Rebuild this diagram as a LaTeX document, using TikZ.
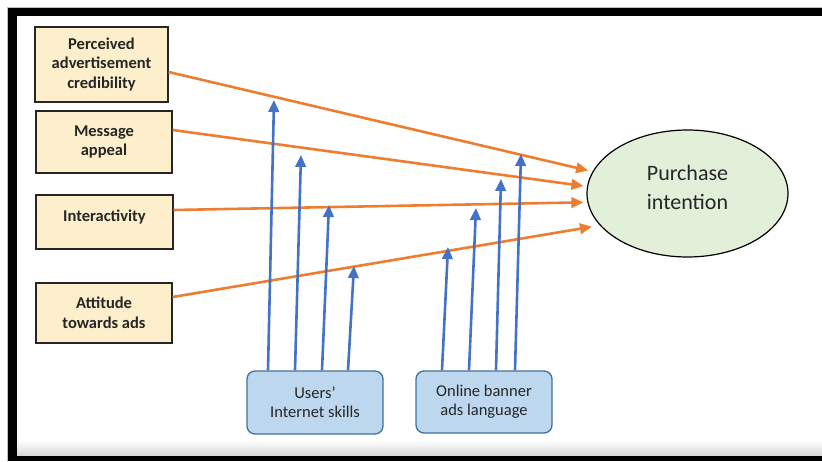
\documentclass[tikz,border=0pt]{standalone}
\usepackage{fontspec}
\setmainfont{Carlito}
\usetikzlibrary{arrows.meta,calc,shapes.geometric}
\definecolor{boxfill}{HTML}{FDEFCB}
\definecolor{orangeline}{HTML}{ED7D31}
\definecolor{bluearrow}{HTML}{4472C4}
\definecolor{bluefill}{HTML}{BDD7EE}
\definecolor{blueedge}{HTML}{41719C}
\definecolor{greenfill}{HTML}{E2EFD9}
\definecolor{textgray}{HTML}{262626}

\begin{document}
\begin{tikzpicture}[x=1pt,y=-1pt,
  factor/.style={draw=black!85, line width=1.2pt, fill=boxfill,
    font=\fontsize{16.5}{19.5}\selectfont\bfseries, text=textgray,
    align=center, inner sep=0pt},
  moderator/.style={draw=blueedge, line width=1.3pt, fill=bluefill,
    rounded corners=8pt, font=\fontsize{16.5}{19}\selectfont, text=textgray,
    align=center, inner sep=0pt, minimum width=136pt},
  outcome/.style={ellipse, draw=black, line width=1.2pt, fill=greenfill,
    minimum width=201pt, minimum height=127pt, inner sep=0pt},
  outcometext/.style={font=\fontsize{22}{28.5}\selectfont, text=textgray,
    align=center, inner sep=0pt},
  effect/.style={draw=orangeline, line width=2.6pt,
    -{Triangle[length=12pt,width=10.5pt]}},
  moderation/.style={draw=bluearrow, line width=2.6pt,
    -{Triangle[length=12pt,width=10.5pt]}},
]
\useasboundingbox (0,0) rectangle (822,461);

% frame
\draw[black!25, line width=0.8pt] (7,461) -- (7,7) -- (822,7);
\shade[top color=white, bottom color=black!16] (17,440) rectangle (822,456);
\fill[black] (8,8) rectangle (822,16);
\fill[black] (8,8) rectangle (17,461);
\fill[black] (8,456) rectangle (822,461);

% constructs
\node[factor, minimum width=133pt, minimum height=75pt] (cred) at (101.5,64.5)
  {Perceived\\advertisement\\credibility};
\node[factor, minimum width=136pt, minimum height=62pt] (appeal) at (104,142)
  {Message\\appeal};
\node[factor, minimum width=137pt, minimum height=54pt, text depth=13pt] (inter) at (104.5,222)
  {Interactivity};
\node[factor, minimum width=136pt, minimum height=60pt] (att) at (104,313)
  {Attitude\\towards ads};
\node[moderator, minimum height=63pt] (skills) at (315,402.5)
  {Users’\\Internet skills};
\node[moderator, minimum height=62pt] (lang) at (484,402)
  {Online banner\\ads language};
\node[outcome] (pi) at (687.5,193.5) {};
\node[outcometext] (pitext) at ($(pi)+(0,-6)$) {Purchase\\intention};

% direct effects
\draw[effect, shorten >=4.5pt] ($(cred.east)+(0,7.5)$) -- (pi.167.8);
\draw[effect, shorten >=3.5pt] ($(appeal.east)+(0,-12)$) -- (pi.176.9);
\draw[effect, shorten >=4pt] ($(inter.east)+(0,-12)$) -- (pi.185.5);
\draw[effect, shorten >=8pt] ($(att.east)+(0,-16)$) -- (pi.200.4);

% moderating effects
\coordinate (s1) at (274,100);
\coordinate (s2) at (301,155);
\coordinate (s3) at (329,205);
\coordinate (s4) at (354,266);
\coordinate (l1) at (448,247);
\coordinate (l2) at (476,208);
\coordinate (l3) at (501,179);
\coordinate (l4) at (521,154);
\draw[moderation] ($(skills.north)+(-47,0)$) -- (s1);
\draw[moderation] ($(skills.north)+(-20,0)$) -- (s2);
\draw[moderation] ($(skills.north)+(7,0)$) -- (s3);
\draw[moderation] ($(skills.north)+(33,0)$) -- (s4);
\draw[moderation] ($(lang.north)+(-42,0)$) -- (l1);
\draw[moderation] ($(lang.north)+(-15,0)$) -- (l2);
\draw[moderation] ($(lang.north)+(12,0)$) -- (l3);
\draw[moderation] ($(lang.north)+(31,0)$) -- (l4);
\end{tikzpicture}
\end{document}
